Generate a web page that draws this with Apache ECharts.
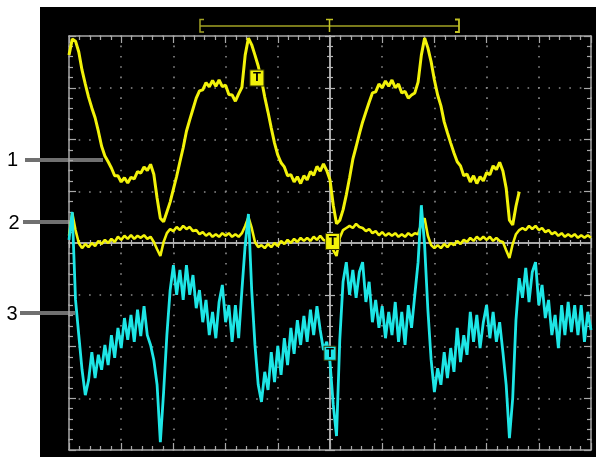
<!DOCTYPE html>
<html><head><meta charset="utf-8">
<script src="https://cdn.jsdelivr.net/npm/echarts@6/dist/echarts.min.js"></script>
<style>html,body{margin:0;padding:0;background:#fff;}#c{width:596px;height:457px;}</style>
</head><body><div id="c"></div>
<script>
// time axis in divisions (0..10), vertical axis in divisions (-4..4)
const sampleStep = 0.0625; // divisions per sample

const ch1 = [3.63,3.94,3.90,3.69,3.34,3.07,2.82,2.61,2.42,2.16,
 1.87,1.68,1.57,1.45,1.30,1.30,1.18,1.26,1.16,1.27,
 1.24,1.38,1.35,1.47,1.40,1.52,1.33,0.87,0.48,0.41,
 0.60,0.79,1.04,1.29,1.57,1.84,2.16,2.38,2.59,2.80,
 2.94,2.96,3.10,3.02,3.14,3.03,3.15,3.02,3.05,2.87,
 2.86,2.74,2.88,3.01,3.63,3.96,3.83,3.63,3.42,3.15,
 2.82,2.53,2.22,1.93,1.70,1.55,1.47,1.30,1.32,1.18,
 1.28,1.15,1.30,1.22,1.38,1.31,1.48,1.39,1.53,1.40,
 1.22,0.73,0.37,0.44,0.64,0.93,1.26,1.62,1.86,2.11,
 2.34,2.53,2.72,2.90,2.92,3.07,3.00,3.13,3.03,3.15,
 3.00,3.07,2.90,2.93,2.80,2.86,2.90,3.11,3.63,3.96,
 3.77,3.50,3.15,2.86,2.65,2.34,2.13,1.93,1.74,1.57,
 1.49,1.30,1.33,1.18,1.30,1.15,1.28,1.20,1.36,1.32,
 1.49,1.42,1.56,1.39,1.06,0.44,0.35,0.71,0.99];

const ch2 = [0.14,0.58,0.25,0,-0.10,-0.02,-0.08,0,-0.06,0.04,
 -0.02,0.06,0,0.08,0.02,0.12,0.06,0.14,0.08,0.15,
 0.08,0.14,0.10,0.15,0.08,0.12,0.02,-0.12,-0.25,0.02,
 0.19,0.27,0.23,0.31,0.25,0.33,0.27,0.31,0.23,0.25,
 0.17,0.21,0.14,0.19,0.12,0.17,0.12,0.19,0.14,0.19,
 0.12,0.17,0.12,0.19,0.33,0.50,0.29,0.02,-0.08,-0.04,
 -0.10,-0.02,-0.08,0,-0.06,0.04,-0.02,0.06,0,0.08,
 0.02,0.10,0.04,0.10,0.04,0.12,0.06,0.14,0.06,0.04,
 -0.02,-0.14,-0.25,0.10,0.25,0.29,0.33,0.29,0.37,0.31,
 0.29,0.23,0.27,0.19,0.23,0.15,0.21,0.14,0.19,0.14,
 0.19,0.12,0.17,0.12,0.19,0.14,0.19,0.17,0.37,0.48,
 0.14,-0.04,-0.10,-0.04,-0.10,-0.02,-0.08,0,-0.04,0.04,
 -0.02,0.06,0.02,0.10,0.04,0.12,0.06,0.12,0.06,0.12,
 0.04,0.10,0.04,0.02,-0.14,-0.29,-0.02,0.17,0.25,0.29,
 0.25,0.33,0.27,0.33,0.25,0.29,0.21,0.25,0.17,0.21,
 0.14,0.19,0.12,0.17,0.12,0.17,0.10,0.15,0.10,0.15,
 0.10];

const ch3 = [0.06,0.60,-1.10,-1.78,-2.45,-2.94,-2.65,-2.11,-2.61,-2.16,
 -2.45,-1.97,-2.36,-1.78,-2.22,-1.64,-2.03,-1.45,-1.87,-1.39,
 -1.91,-1.29,-1.80,-1.22,-1.78,-1.97,-2.26,-2.74,-3.85,-2.88,
 -1.78,-0.91,-0.43,-1.00,-0.52,-1.10,-0.43,-1.00,-0.62,-1.26,
 -0.91,-1.53,-1.10,-1.78,-1.33,-1.84,-1.14,-0.81,-1.53,-1.20,
 -1.91,-1.20,-1.84,-0.91,-0.04,0.56,-0.91,-1.97,-2.74,-3.07,
 -2.49,-2.84,-2.11,-2.69,-1.99,-2.55,-1.84,-2.36,-1.64,-2.14,
 -1.49,-1.97,-1.41,-1.91,-1.29,-1.78,-1.22,-1.68,-2.07,-1.91,
 -2.30,-3.13,-3.73,-1.87,-0.75,-0.37,-1.00,-0.52,-1.06,-0.56,
 -0.37,-1.14,-0.75,-1.53,-1.10,-1.64,-1.22,-1.84,-1.33,-1.78,
 -1.14,-1.91,-1.33,-1.97,-1.20,-1.64,-1.00,-0.37,0.73,-0.04,
 -1.29,-2.26,-2.88,-2.42,-2.74,-2.11,-2.61,-2.03,-2.49,-1.64,
 -2.30,-1.78,-2.16,-1.33,-1.91,-1.39,-2.03,-1.53,-1.20,-1.84,
 -1.33,-1.91,-1.53,-2.11,-2.74,-3.77,-3.00,-1.49,-0.68,-1.06,
 -0.48,-1.14,-0.56,-0.37,-1.20,-0.81,-1.45,-1.10,-1.78,-1.39,
 -2.03,-1.20,-1.78,-1.14,-1.72,-1.20,-1.78,-1.20,-1.91,-1.33,
 -1.68];

const channelLabels = ['1', '2', '3'];
const triggerMarkCh1 = [3.60, 3.19];
const triggerMarkCh2 = [5.05, 0.03];
const triggerMarkCh3 = [5.00, -2.13];

const YELLOW = '#f2f20a';
const CYAN = '#1ee6e6';
const FRAME = '#a8a8a8';
const DOT = '#8a8a8a';

function toPairs(arr) { return arr.map((v, i) => [i * sampleStep, v]); }

function axisBase(min, max, extra) {
  return Object.assign({
    type: 'value', min: min, max: max, interval: 1,
    axisLabel: { show: false },
    splitLine: { show: false },
    axisLine: { show: true, onZero: false, lineStyle: { color: FRAME, width: 1.5 } },
    axisTick: { show: true, inside: true, length: 7, lineStyle: { color: FRAME, width: 1.2 } },
    minorTick: { show: true, splitNumber: 5, length: 4, lineStyle: { color: FRAME, width: 1.2 } },
    silent: true
  }, extra);
}
function centerAxis(min, max, pos, off) {
  return axisBase(min, max, {
    position: pos, offset: off,
    axisLine: { show: true, onZero: false, lineStyle: { color: '#b4b4b4', width: 1.5 } },
    axisTick: { show: true, inside: false, length: 5, lineStyle: { color: '#b4b4b4', width: 1.2 } },
    minorTick: { show: true, splitNumber: 5, length: 3, lineStyle: { color: '#b4b4b4', width: 1.2 } }
  });
}

function trigMark(coord, fill) {
  return {
    symbol: 'rect', symbolSize: [14, 16], silent: true,
    itemStyle: { color: fill, borderColor: '#3a3a00', borderWidth: 1 },
    label: { show: true, position: 'inside', formatter: 'T', color: '#000', fontSize: 13, fontWeight: 'bold', fontFamily: 'Liberation Sans' },
    data: [{ coord: coord }]
  };
}

const bracketColor = '#a3a324';
const option = {
  animation: false,
  backgroundColor: '#ffffff',
  grid: { left: 69, top: 36, width: 522, height: 414, show: false },
  xAxis: [
    axisBase(0, 10, { position: 'bottom', splitLine: { show: true, lineStyle: { color: DOT, width: 1.6, type: [1.6, 8.75], dashOffset: 0.8 } } }),
    axisBase(0, 10, { position: 'top' }),
    centerAxis(0, 10, 'bottom', -207),
    centerAxis(0, 10, 'top', -207)
  ],
  yAxis: [
    axisBase(-4, 4, { position: 'left', splitLine: { show: true, lineStyle: { color: DOT, width: 1.6, type: [1.6, 8.84], dashOffset: 0.8 } } }),
    axisBase(-4, 4, { position: 'right' }),
    centerAxis(-4, 4, 'left', -261),
    centerAxis(-4, 4, 'right', -261)
  ],
  graphic: [
    { type: 'rect', z: -100, shape: { x: 40, y: 7, width: 556, height: 450 }, style: { fill: '#000' } },
    { type: 'line', shape: { x1: 25, y1: 160, x2: 103, y2: 160 }, style: { stroke: '#707070', lineWidth: 4 } },
    { type: 'line', shape: { x1: 23, y1: 222, x2: 72, y2: 222 }, style: { stroke: '#707070', lineWidth: 4 } },
    { type: 'line', shape: { x1: 20, y1: 313, x2: 75, y2: 313 }, style: { stroke: '#707070', lineWidth: 4 } },
    { type: 'text', x: 12.5, y: 160, style: { text: channelLabels[0], fill: '#000', font: '20px "Liberation Sans"', align: 'center', verticalAlign: 'middle' } },
    { type: 'text', x: 14, y: 223, style: { text: channelLabels[1], fill: '#000', font: '20px "Liberation Sans"', align: 'center', verticalAlign: 'middle' } },
    { type: 'text', x: 12, y: 314, style: { text: channelLabels[2], fill: '#000', font: '20px "Liberation Sans"', align: 'center', verticalAlign: 'middle' } },
    { type: 'polyline', shape: { points: [[204, 19.5], [200, 19.5], [200, 32], [204, 32]] }, style: { stroke: bracketColor, lineWidth: 1.5, fill: null } },
    { type: 'line', shape: { x1: 200, y1: 26, x2: 459, y2: 26 }, style: { stroke: bracketColor, lineWidth: 1.5 } },
    { type: 'polyline', shape: { points: [[455, 19.5], [459, 19.5], [459, 32], [455, 32]] }, style: { stroke: '#c2c224', lineWidth: 1.8, fill: null } },
    { type: 'line', shape: { x1: 326, y1: 19.5, x2: 333, y2: 19.5 }, style: { stroke: '#c2c224', lineWidth: 1.5 } },
    { type: 'line', shape: { x1: 329.5, y1: 19.5, x2: 329.5, y2: 32 }, style: { stroke: '#c2c224', lineWidth: 1.5 } }
  ],
  series: [
    { type: 'line', name: 'CH1', data: toPairs(ch1), showSymbol: false, symbol: 'none', z: 3,
      lineStyle: { color: YELLOW, width: 3 }, itemStyle: { color: YELLOW },
      markPoint: trigMark(triggerMarkCh1, YELLOW) },
    { type: 'line', name: 'CH2', data: toPairs(ch2), showSymbol: false, symbol: 'none', z: 3,
      lineStyle: { color: YELLOW, width: 2.6 }, itemStyle: { color: YELLOW },
      markPoint: trigMark(triggerMarkCh2, YELLOW) },
    { type: 'line', name: 'CH3', data: toPairs(ch3), showSymbol: false, symbol: 'none', z: 4,
      lineStyle: { color: CYAN, width: 2.8 }, itemStyle: { color: CYAN },
      markPoint: Object.assign(trigMark(triggerMarkCh3, CYAN), { symbolSize: [12, 14] }) }
  ]
};
const chart = echarts.init(document.getElementById('c'), null, { renderer: 'canvas' });
chart.setOption(option);
</script></body></html>
